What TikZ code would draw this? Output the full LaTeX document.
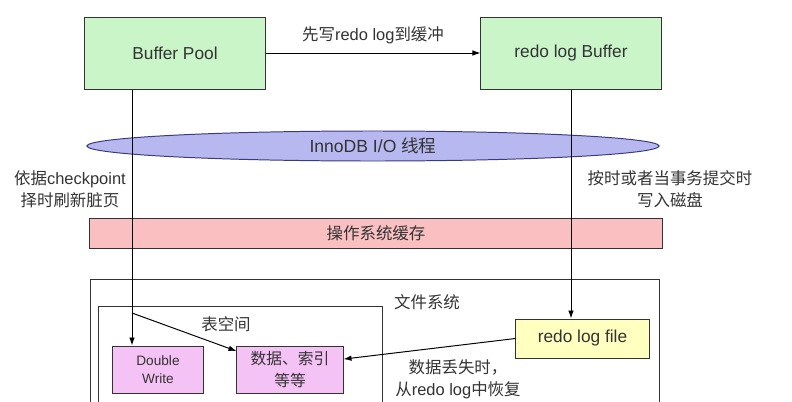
\documentclass[tikz,border=0pt]{standalone}
\usepackage{fontspec}
\setmainfont{Liberation Sans}
\newfontfamily\cjk{Noto Sans CJK SC}
\usepackage{xcolor}
\usetikzlibrary{shapes.geometric, arrows.meta, positioning, calc}
\definecolor{bufgreen}{HTML}{C9F5C9}
\definecolor{iolilac}{HTML}{B8B8F0}
\definecolor{ioedge}{HTML}{3A3A80}
\definecolor{oscache}{HTML}{FABFC1}
\definecolor{tblpink}{HTML}{F5C2F5}
\definecolor{logyellow}{HTML}{FFFFC0}
\definecolor{ink}{HTML}{333333}

\begin{document}
\begin{tikzpicture}[x=0.025cm, y=-0.025cm, >={Latex[length=2mm,width=1.4mm]}, font=\fontsize{11.7}{14}\selectfont, text=ink]
    \tikzstyle{membox} = [rectangle, draw=ink, fill=bufgreen, line width=0.7pt, minimum width=4.5cm, minimum height=1.8cm, text centered, font=\fontsize{12.3}{14}\selectfont]
    \tikzstyle{thread} = [ellipse, draw=ioedge, fill=iolilac, line width=0.7pt, inner sep=0pt, minimum width=14.3cm, minimum height=0.75cm, text centered, font=\fontsize{12.5}{14}\selectfont]
    \tikzstyle{cache} = [rectangle, draw=ink, fill=oscache, line width=0.7pt, minimum width=14.3cm, minimum height=0.75cm, text centered, font=\fontsize{11.7}{14}\selectfont]
    \tikzstyle{page} = [rectangle, draw=ink, fill=tblpink, line width=0.7pt, minimum height=1.175cm, align=center]
    \tikzstyle{logfile} = [rectangle, draw=ink, fill=logyellow, line width=0.7pt, minimum width=3.325cm, minimum height=0.975cm, text centered, font=\fontsize{12.3}{14}\selectfont]
    \tikzstyle{note} = [align=center, font=\fontsize{11.7}{15.6}\selectfont]
    \tikzstyle{frame} = [draw=ink, line width=0.7pt]

    \useasboundingbox (0,0) rectangle (792,402);

    \node [membox] (bp) at (175,53) {Buffer Pool};
    \node [membox] (rlb) at (571,53) {redo log Buffer};
    \node [thread] (io) at (373,146) {InnoDB I/O {\cjk 线程}};
    \node [cache] (os) at (376,233) {\cjk 操作系统缓存};

    \draw [frame] (90,402) |- (659,279) -- (659,402);
    \draw [frame] (98,402) |- (382,306) -- (382,402);
    \node (fs) at (427,302) {\cjk 文件系统};
    \node (ts) at (226,324) {\cjk 表空间};

    \node [page, minimum width=2.25cm, font=\fontsize{9.7}{12.5}\selectfont] (dw) at (158,369.5) {Double\\Write};
    \node [page, minimum width=2.65cm, font=\fontsize{11.2}{15.5}\selectfont] (data) at (290,369.5) {\cjk 数据、索引\\\cjk 等等};
    \node [logfile] (rlf) at (582.5,338.5) {redo log file};

    \coordinate (flush) at (132,313);

    \path [draw, ->, line width=0.7pt] (bp) -- node[above=3pt] {{\cjk 先写}redo log{\cjk 到缓冲}} (rlb);
    \path [draw, ->, line width=0.7pt] (bp.south -| flush) -- (dw.north -| flush);
    \path [draw, ->, line width=0.7pt] (flush) -- (data.161);
    \path [draw, ->, line width=0.7pt] (rlb.south) -- (rlb.south |- rlf.north);
    \path [draw, ->, line width=0.7pt] (rlf.west) -- (data.11);

    \node [note] (ckpt) at (70,189) {{\cjk 依据}checkpoint\\\cjk 择时刷新脏页};
    \node [note] (commit) at (670,189) {\cjk 按时或者当事务提交时\\\cjk 写入磁盘};
    \node [note] (recover) at (458,379) {\cjk 数据丢失时，\\{\cjk 从}redo log{\cjk 中恢复}};
\end{tikzpicture}
\end{document}
